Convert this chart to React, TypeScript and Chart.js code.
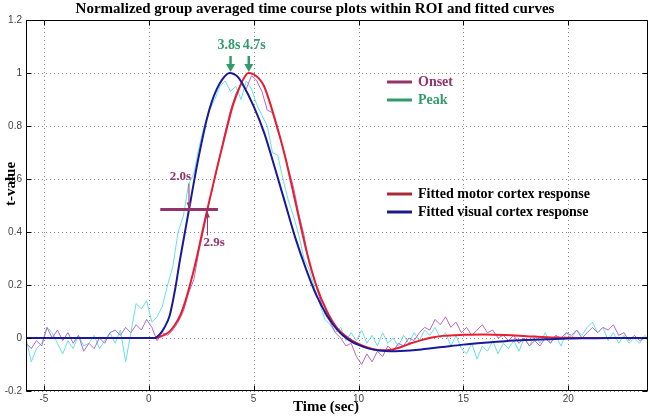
import React, { useEffect, useRef } from "react";
import { Chart, registerables } from "chart.js";

Chart.register(...registerables);

// ---------- data ----------
const RAW_T0 = -5.85;
const RAW_DT = 0.25;

const RAW_VISUAL = [
  0.0, -0.09, -0.04, -0.02, 0.04, 0.02, -0.02, -0.06, -0.01, -0.04,
  0.01, -0.03, -0.02, 0.01, -0.04, -0.01, 0.02, -0.02, 0.03, -0.09,
  0.02, 0.13, 0.11, 0.14, 0.06, 0.08, 0.12, 0.2, 0.27, 0.4,
  0.46, 0.58, 0.62, 0.72, 0.8, 0.86, 0.9, 0.95, 0.97, 0.93,
  0.95, 0.9, 0.97, 0.94, 0.88, 0.84, 0.8, 0.7, 0.69, 0.6,
  0.52, 0.46, 0.39, 0.3, 0.26, 0.19, 0.13, 0.07, 0.05, 0.02,
  0.04, -0.01, 0.02, -0.01, 0.03, -0.02, 0.01, -0.03, 0.02, -0.02,
  0.0, -0.03, 0.01, -0.02, 0.02, -0.01, 0.03, 0.01, 0.04, 0.0,
  0.02, -0.03, 0.01, -0.04, -0.06, -0.02, -0.08, -0.03, -0.05, -0.01,
  -0.06, -0.02, -0.04, -0.01, -0.05, 0.0, -0.03, 0.01, -0.02, 0.02,
  -0.02, 0.01, -0.03, 0.02, 0.0, 0.03, 0.01, 0.04, 0.06, 0.02,
  0.04, -0.01, 0.02, -0.02, 0.01, -0.02, 0.0, -0.02, 0.01, -0.01,
];

const RAW_MOTOR = [
  -0.02, -0.04, -0.01, -0.03, 0.04, 0.0, 0.03, -0.01, 0.02, -0.02,
  0.01, -0.05, -0.02, -0.04, 0.0, -0.02, 0.02, 0.03, 0.01, 0.04,
  0.02, 0.05, 0.03, 0.07, 0.04, -0.01, 0.02, 0.01, 0.03, 0.06,
  0.1, 0.17, 0.22, 0.33, 0.42, 0.52, 0.6, 0.69, 0.78, 0.86,
  0.92, 0.96, 0.94, 0.99, 0.97, 0.93, 0.86, 0.85, 0.78, 0.72,
  0.64, 0.57, 0.47, 0.39, 0.28, 0.22, 0.15, 0.09, 0.06, 0.02,
  0.0, -0.03, -0.02, -0.07, -0.1, -0.06, -0.09, -0.05, -0.07, -0.03,
  -0.05, -0.02, -0.03, 0.0, -0.01, 0.02, 0.04, 0.03, 0.07, 0.05,
  0.08, 0.04, 0.06, 0.02, 0.04, 0.01, 0.03, 0.05, 0.02, 0.03,
  0.0, 0.01, -0.01, 0.01, -0.02, 0.0, -0.03, -0.01, -0.03, 0.0,
  -0.02, 0.01, 0.0, 0.02, 0.01, 0.03, 0.0, 0.02, 0.04, 0.02,
  0.04, 0.03, 0.05, 0.01, 0.02, -0.01, 0.01, -0.01, 0.0, -0.01,
];

const RAW_TIME = RAW_VISUAL.map((_, i) => +(RAW_T0 + RAW_DT * i).toFixed(2));

const VIS_FIT_T = [
  -5.85, 0.3, 0.5, 0.75, 1, 1.25, 1.5, 1.75, 2, 2.25, 2.5, 2.75, 3, 3.25, 3.5, 3.85, 4.25, 4.5, 5, 5.5,
  6, 6.5, 7, 7.5, 8, 8.5, 9, 9.5, 10, 10.5, 11, 11.5, 12,
  13, 14, 15, 16, 17, 18, 19, 20, 21, 22, 23.8,
];
const VIS_FIT_V = [
  0, 0, 0.012, 0.04, 0.085, 0.18, 0.3, 0.41, 0.52, 0.63, 0.73, 0.82, 0.89, 0.94, 0.975, 1.0, 0.985, 0.955, 0.875, 0.775,
  0.645, 0.51, 0.375, 0.26, 0.16, 0.085, 0.03, -0.005, -0.026, -0.04, -0.047, -0.05, -0.049,
  -0.043, -0.034, -0.025, -0.018, -0.012, -0.008, -0.005, -0.002, -0.001, 0, 0,
];

const MOT_FIT_T = [
  -5.85, 0.3, 0.5, 0.75, 1, 1.25, 1.5, 1.75, 2, 2.25, 2.5, 2.75, 3, 3.25, 3.5, 3.75, 4, 4.25, 4.5, 4.75, 5, 5.25, 5.5,
  6, 6.5, 7, 7.5, 8, 8.5, 9, 9.5, 10, 10.5, 11, 11.5, 12, 12.5, 13, 13.5, 14,
  15, 16, 17, 18, 19, 20, 21, 22, 23.8,
];
const MOT_FIT_V = [
  0, 0, 0.004, 0.012, 0.025, 0.05, 0.085, 0.14, 0.21, 0.29, 0.38, 0.47, 0.555, 0.64, 0.72, 0.8, 0.875, 0.93, 0.975, 1.0, 0.995, 0.98, 0.95,
  0.83, 0.685, 0.51, 0.335, 0.195, 0.1, 0.035, 0.0, -0.022, -0.038, -0.046, -0.045, -0.035, -0.02, -0.008, 0.002, 0.008,
  0.012, 0.013, 0.011, 0.007, 0.003, 0.001, 0, 0, 0,
];

const X_TICKS = [-5, 0, 5, 10, 15, 20];
const Y_TICKS = [-0.2, 0, 0.2, 0.4, 0.6, 0.8, 1, 1.2];

const TITLE = "Normalized group averaged time course plots within ROI and fitted curves";
const X_TITLE = "Time (sec)";
const Y_TITLE = "t-value";

// onset bar (time from, time to, level) and onset / peak markers
const ONSET_BAR = [0.55, 3.3, 0.485];
const ONSET_LABELS = ["2.0s", "2.9s"];
const ONSET_ARROW_X = [1.92, 2.8];
const PEAK_LABELS = ["3.8s", "4.7s"];
const PEAK_ARROW_X = [3.9, 4.77];

const LEGEND_TOP = ["Onset", "Peak"];
const LEGEND_BOTTOM = ["Fitted motor cortex response", "Fitted visual cortex response"];

// ---------- styles ----------
const C_CYAN = "#66e0e8";
const C_PURPLE = "#b468c6";
const C_RED = "#e61e30";
const C_NAVY = "#1a1a98";
const C_ONSET = "#93346a";
const C_PEAK = "#339a6c";
const SERIF = '"Liberation Serif", "Times New Roman", serif';
const SANS = '"Liberation Sans", Arial, sans-serif';

function arrow(ctx: CanvasRenderingContext2D, x: number, yFrom: number, yTo: number, color: string, lw: number, hw: number, hl: number) {
  const dir = yTo > yFrom ? 1 : -1;
  ctx.save();
  ctx.strokeStyle = color;
  ctx.fillStyle = color;
  ctx.lineWidth = lw;
  ctx.setLineDash([]);
  ctx.beginPath();
  ctx.moveTo(x, yFrom);
  ctx.lineTo(x, yTo - dir * hl * 0.8);
  ctx.stroke();
  ctx.beginPath();
  ctx.moveTo(x - hw / 2, yTo - dir * hl);
  ctx.lineTo(x + hw / 2, yTo - dir * hl);
  ctx.lineTo(x, yTo);
  ctx.closePath();
  ctx.fill();
  ctx.restore();
}

const matlabPlugin = {
  id: "matlabDecor",
  beforeDatasetsDraw(chart: any) {
    const { ctx, chartArea: a, scales } = chart;
    const xs = scales.x, ys = scales.y;
    ctx.save();
    ctx.strokeStyle = "#8a8a8a";
    ctx.lineWidth = 1;
    ctx.setLineDash([1, 3]);
    for (const t of X_TICKS) {
      const px = Math.round(xs.getPixelForValue(t)) + 0.5;
      ctx.beginPath(); ctx.moveTo(px, a.top); ctx.lineTo(px, a.bottom); ctx.stroke();
    }
    for (const v of Y_TICKS) {
      const py = Math.round(ys.getPixelForValue(v)) + 0.5;
      ctx.beginPath(); ctx.moveTo(a.left, py); ctx.lineTo(a.right, py); ctx.stroke();
    }
    ctx.restore();
  },
  afterDatasetsDraw(chart: any) {
    const { ctx, chartArea: a, scales } = chart;
    const xs = scales.x, ys = scales.y;
    const X = (t: number) => xs.getPixelForValue(t);
    const Y = (v: number) => ys.getPixelForValue(v);

    // onset bar
    ctx.save();
    ctx.strokeStyle = C_ONSET;
    ctx.lineWidth = 3;
    ctx.beginPath();
    ctx.moveTo(X(ONSET_BAR[0]), Y(ONSET_BAR[2]));
    ctx.lineTo(X(ONSET_BAR[1]), Y(ONSET_BAR[2]));
    ctx.stroke();
    ctx.restore();

    // onset arrows + labels
    const barY = Y(ONSET_BAR[2]);
    arrow(ctx, X(ONSET_ARROW_X[0]), barY - 26, barY - 1, C_ONSET, 1, 5, 6);
    arrow(ctx, X(ONSET_ARROW_X[1]), barY + 26, barY + 2, C_ONSET, 1, 5, 6);
    ctx.save();
    ctx.font = `bold 13px ${SERIF}`;
    ctx.fillStyle = C_ONSET;
    ctx.textBaseline = "middle";
    ctx.textAlign = "right";
    ctx.fillText(ONSET_LABELS[0], X(ONSET_ARROW_X[0]) + 2, barY - 33);
    ctx.textAlign = "left";
    ctx.fillText(ONSET_LABELS[1], X(ONSET_ARROW_X[1]) - 4, barY + 33);
    ctx.restore();

    // peak arrows + labels
    const peakY = Y(1);
    arrow(ctx, X(PEAK_ARROW_X[0]), peakY - 17, peakY - 1, C_PEAK, 2.5, 9, 8);
    arrow(ctx, X(PEAK_ARROW_X[1]), peakY - 17, peakY - 1, C_PEAK, 2.5, 9, 8);
    ctx.save();
    ctx.font = `bold 14px ${SERIF}`;
    ctx.fillStyle = C_PEAK;
    ctx.textBaseline = "middle";
    ctx.textAlign = "right";
    ctx.fillText(PEAK_LABELS[0], X(PEAK_ARROW_X[0]) + 10, peakY - 28);
    ctx.textAlign = "left";
    ctx.fillText(PEAK_LABELS[1], X(PEAK_ARROW_X[1]) - 6, peakY - 28);
    ctx.restore();

    // legends (annotation boxes)
    const lx0 = a.left + 361, lx1 = a.left + 386, tx = a.left + 392;
    const rows: [string, string, string, number][] = [
      [LEGEND_TOP[0], C_ONSET, C_ONSET, a.top + 62],
      [LEGEND_TOP[1], C_PEAK, C_PEAK, a.top + 80],
      [LEGEND_BOTTOM[0], "#a82a36", "#000", a.top + 174],
      [LEGEND_BOTTOM[1], "#1c1c84", "#000", a.top + 192],
    ];
    ctx.save();
    ctx.font = `bold 14px ${SERIF}`;
    ctx.textBaseline = "middle";
    ctx.textAlign = "left";
    for (const [label, lc, tc, y] of rows) {
      ctx.strokeStyle = lc;
      ctx.lineWidth = 3;
      ctx.beginPath(); ctx.moveTo(lx0, y); ctx.lineTo(lx1, y); ctx.stroke();
      ctx.fillStyle = tc;
      ctx.fillText(label, tx, y);
    }
    ctx.restore();

    // box and inward ticks
    ctx.save();
    ctx.strokeStyle = "#000";
    ctx.lineWidth = 1;
    const L = Math.round(a.left) + 0.5, R = Math.round(a.right) - 0.5;
    const T = Math.round(a.top) + 0.5, B = Math.round(a.bottom) - 0.5;
    ctx.strokeRect(L, T, R - L, B - T);
    ctx.beginPath();
    for (const t of X_TICKS) {
      const px = Math.round(X(t)) + 0.5;
      ctx.moveTo(px, B); ctx.lineTo(px, B - 5);
      ctx.moveTo(px, T); ctx.lineTo(px, T + 5);
    }
    for (const v of Y_TICKS) {
      const py = Math.round(Y(v)) + 0.5;
      ctx.moveTo(L, py); ctx.lineTo(L + 5, py);
      ctx.moveTo(R, py); ctx.lineTo(R - 5, py);
    }
    ctx.stroke();
    ctx.restore();
  },
  afterDraw(chart: any) {
    const { ctx } = chart;
    ctx.save();
    ctx.fillStyle = "#000";
    ctx.textBaseline = "middle";
    ctx.textAlign = "center";
    ctx.font = `bold 15px ${SERIF}`;
    ctx.fillText(TITLE, 315, 9);
    ctx.fillText(X_TITLE, 326, 407);
    ctx.translate(11, 184);
    ctx.rotate(-Math.PI / 2);
    ctx.fillText(Y_TITLE, 0, 0);
    ctx.restore();
  },
};

export default function App() {
  const ref = useRef<HTMLCanvasElement | null>(null);

  useEffect(() => {
    document.body.style.margin = "0";
    const canvas = ref.current;
    if (!canvas) return;
    const pts = (xs: number[], ys: number[]) => xs.map((x, i) => ({ x, y: ys[i] }));
    const chart = new Chart(canvas, {
      type: "line",
      data: {
        datasets: [
          {
            label: "Fitted visual cortex response",
            data: pts(VIS_FIT_T, VIS_FIT_V),
            borderColor: C_NAVY,
            borderWidth: 2,
            pointRadius: 0,
            cubicInterpolationMode: "monotone",
            order: 0,
          },
          {
            label: "Fitted motor cortex response",
            data: pts(MOT_FIT_T, MOT_FIT_V),
            borderColor: C_RED,
            borderWidth: 2,
            pointRadius: 0,
            cubicInterpolationMode: "monotone",
            order: 1,
          },
          {
            label: "Motor cortex (raw)",
            data: pts(RAW_TIME, RAW_MOTOR),
            borderColor: C_PURPLE,
            borderWidth: 1,
            pointRadius: 0,
            tension: 0,
            order: 2,
          },
          {
            label: "Visual cortex (raw)",
            data: pts(RAW_TIME, RAW_VISUAL),
            borderColor: C_CYAN,
            borderWidth: 1,
            pointRadius: 0,
            tension: 0,
            order: 3,
          },
        ],
      },
      options: {
        responsive: false,
        animation: false,
        events: [],
        layout: { padding: { top: 20, right: 2, left: 0, bottom: 0 } },
        plugins: {
          legend: { display: false },
          title: { display: false },
          tooltip: { enabled: false },
        },
        scales: {
          x: {
            type: "linear",
            min: -5.85,
            max: 23.8,
            grid: { display: false, drawTicks: false },
            border: { display: false },
            afterBuildTicks: (s: any) => { s.ticks = X_TICKS.map((v) => ({ value: v })); },
            afterFit: (s: any) => { s.height = 26; },
            ticks: {
              padding: 2,
              color: "#444",
              font: { family: SANS, size: 10 },
              callback: (v: any) => String(v),
              maxRotation: 0,
            },
          },
          y: {
            type: "linear",
            min: -0.2,
            max: 1.2,
            grid: { display: false, drawTicks: false },
            border: { display: false },
            afterBuildTicks: (s: any) => { s.ticks = Y_TICKS.map((v) => ({ value: v })); },
            afterFit: (s: any) => { s.width = 26; },
            ticks: {
              padding: 4,
              color: "#444",
              font: { family: SANS, size: 10 },
              callback: (v: any) => String(Math.round(v * 10) / 10),
            },
          },
        },
      },
      plugins: [matlabPlugin],
    } as any);
    return () => chart.destroy();
  }, []);

  return (
    <div style={{ width: 650, height: 417, background: "#fff" }}>
      <canvas ref={ref} width={650} height={417} style={{ display: "block", width: 650, height: 417 }} />
    </div>
  );
}
